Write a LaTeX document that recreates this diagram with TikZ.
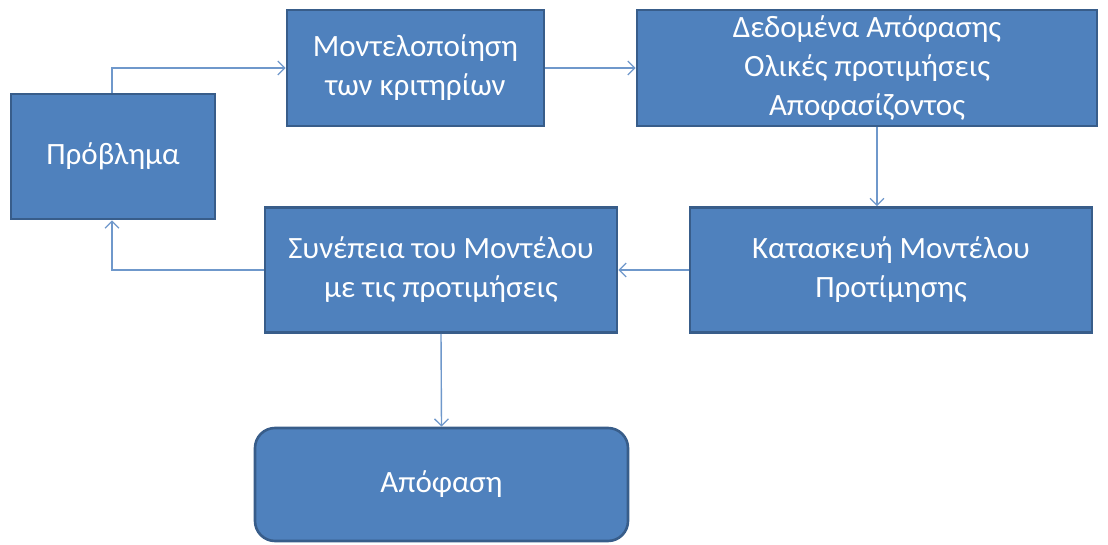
\documentclass[tikz,border=0pt]{standalone}
\usepackage{fontspec}
\setmainfont{Carlito}
\usetikzlibrary{arrows.meta}
\definecolor{boxfill}{HTML}{4F81BD}
\definecolor{boxedge}{HTML}{385D8A}
\definecolor{linkc}{HTML}{6F98CB}
\tikzset{
  box/.style={draw=boxedge, fill=boxfill, line width=2.6pt, text=white, align=center,
    font=\fontsize{31}{39}\selectfont, inner sep=0pt},
  link/.style={draw=linkc, line width=1.4pt, -{Straight Barb[length=7pt,width=14pt,line width=1.3pt]}}
}
\begin{document}
\begin{tikzpicture}[x=1pt,y=-1pt]
\useasboundingbox (0,0) rectangle (1108,545);
\node[box, minimum width=204pt, minimum height=125pt] (prob) at (113,156.5) {Πρόβλημα};
\node[box, minimum width=257pt, minimum height=116pt] (model) at (415.5,68) {Μοντελοποίηση\\των κριτηρίων};
\node[box, minimum width=460pt, minimum height=116pt] (data) at (867,68) {Δεδομένα Απόφασης\\Ολικές προτιμήσεις\\Αποφασίζοντος};
\node[box, minimum width=402pt, minimum height=125pt] (build) at (891,270) {Κατασκευή Μοντέλου\\Προτίμησης};
\node[box, minimum width=352pt, minimum height=125pt] (cons) at (441,270) {Συνέπεια του Μοντέλου\\με τις προτιμήσεις};
\node[box, rounded corners=20pt, minimum width=373pt, minimum height=113pt] (dec) at (441.5,484.5) {Απόφαση};
\coordinate (c1) at (112,68);
\coordinate (c2) at (112,270);
\coordinate (c3) at (877,150);
\draw[link] (prob.north -| c1) -- (c1) -- (model.west);
\draw[link] (model.east) -- (data.west);
\draw[link] (data.south -| c3) -- (build.north -| c3);
\draw[link] (build.west) -- (cons.east);
\draw[link] (cons.west) -- (c2) -- (prob.south -| c2);
\draw[link] (cons.south) -- (dec.north);
\end{tikzpicture}
\end{document}
